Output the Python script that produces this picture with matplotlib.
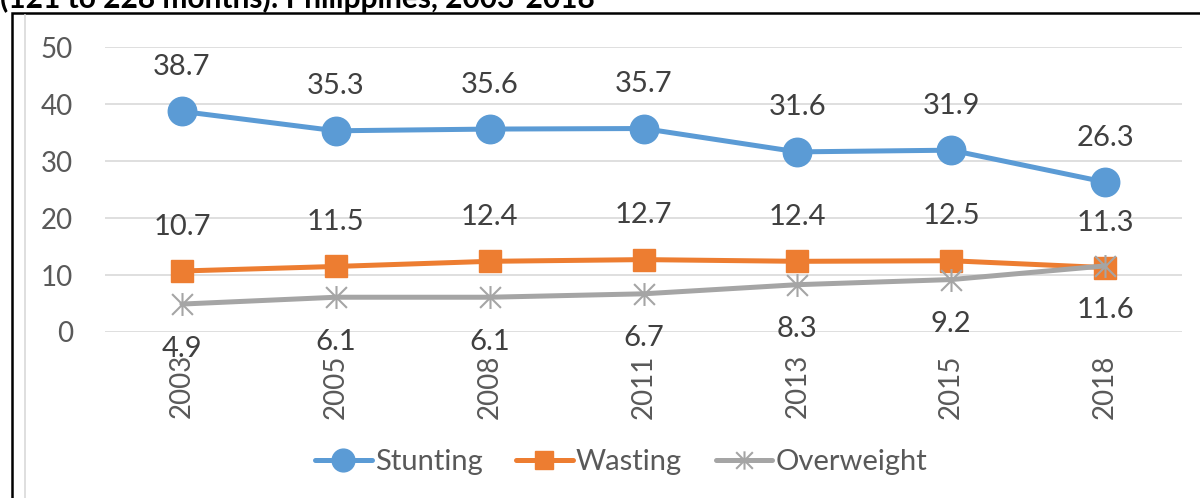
import matplotlib
matplotlib.use("Agg")
import matplotlib.pyplot as plt
from matplotlib.path import Path
from matplotlib.patches import Rectangle
from matplotlib.lines import Line2D

years = ["2003", "2005", "2008", "2011", "2013", "2015", "2018"]
stunting = [38.7, 35.3, 35.6, 35.7, 31.6, 31.9, 26.3]
wasting = [10.7, 11.5, 12.4, 12.7, 12.4, 12.5, 11.3]
overweight = [4.9, 6.1, 6.1, 6.7, 8.3, 9.2, 11.6]
title = "(121 to 228 months): Philippines, 2003-2018"

plt.rcParams['font.family'] = ['Lato', 'DejaVu Sans']

W, H = 1200, 498
fig = plt.figure(figsize=(W/100, H/100), dpi=100)

# border
fig.patches.append(Rectangle((12/W, -0.1), 1.2, 1 - 13/H + 0.1, transform=fig.transFigure,
                             fill=False, edgecolor='black', linewidth=1.8))
fig.add_artist(Line2D([25/W, 25/W], [0, 1 - 15/H], transform=fig.transFigure,
                      color='#d9d9d9', linewidth=1.2))
fig.text(0, 1 - 8/H, title, fontsize=21.5, fontweight='bold', va='baseline', ha='left', color='black')

ax = fig.add_axes([105/W, 1 - 332/H, (1182-105)/W, (332-47)/H])
x = list(range(len(years)))

star = Path([(-1, -1), (1, 1), (-1, 1), (1, -1), (0, -1.1), (0, 1.1)],
            [Path.MOVETO, Path.LINETO, Path.MOVETO, Path.LINETO, Path.MOVETO, Path.LINETO])

c1, c2, c3 = '#5b9bd5', '#ed7d31', '#a5a5a5'
ax.plot(x, stunting, color=c1, lw=3.6, marker='o', ms=20.5, label='Stunting', solid_capstyle='round', zorder=3)
ax.plot(x, wasting, color=c2, lw=3.6, marker='s', ms=16, label='Wasting', solid_capstyle='round', zorder=3)
ax.plot(x, overweight, color=c3, lw=3.6, marker=star, ms=16.5, mew=1.5, mfc='none', label='Overweight',
        solid_capstyle='round', zorder=4)

tc = '#404040'
off = 32
for i in x:
    ax.annotate(f"{stunting[i]}", (i, stunting[i]), xytext=(0, off), textcoords='offset points',
                ha='center', va='center', fontsize=21, color=tc)
    ax.annotate(f"{wasting[i]}", (i, wasting[i]), xytext=(0, off), textcoords='offset points',
                ha='center', va='center', fontsize=21, color=tc)
    ax.annotate(f"{overweight[i]}", (i, overweight[i]), xytext=(0, -off), textcoords='offset points',
                ha='center', va='center', fontsize=21, color=tc, zorder=5)

ax.set_xlim(-0.5, 6.5)
ax.set_ylim(0, 50)
ax.set_yticks([0, 10, 20, 30, 40, 50])
ax.set_xticks(x)
ax.set_xticklabels(years, rotation=90)
ax.tick_params(axis='both', length=0, labelsize=20, labelcolor='#595959')
ax.tick_params(axis='y', pad=23)
ax.tick_params(axis='x', pad=16)
ax.grid(axis='y', color='#d9d9d9', linewidth=1.2)
ax.set_axisbelow(True)
for s in ax.spines.values():
    s.set_visible(False)

leg = fig.legend(loc='center', bbox_to_anchor=(621/W, 1 - 462/H), ncol=3, frameon=False,
                 fontsize=21, handlelength=1.95, handletextpad=0.1, columnspacing=1.15,
                 labelcolor='#595959', markerscale=0.8)

fig.savefig('out.png', dpi=100)
